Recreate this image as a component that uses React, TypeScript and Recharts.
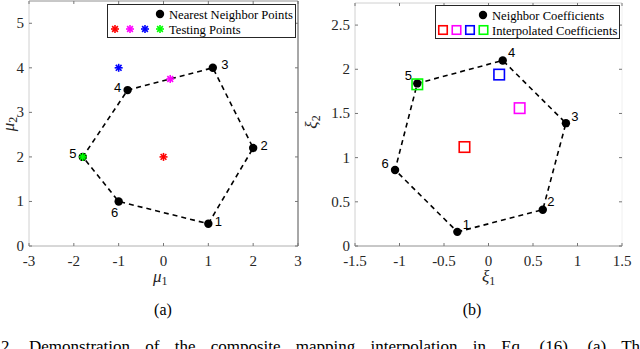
import React from 'react'
import { ScatterChart, Scatter, XAxis, YAxis } from 'recharts'

const POINT_LABELS = ['1', '2', '3', '4', '5', '6']

// (a) parameter space: nearest neighbours and the testing points
const MU1 = [1, 2, 1.1, -0.8, -1.8, -1]
const MU2 = [0.5, 2.2, 4, 3.5, 2, 1]
const TEST_MU1 = [0, 0.15, -1, -1.8]
const TEST_MU2 = [2, 3.75, 4, 2]

// (b) coefficient space: neighbour and interpolated coefficients
const XI1 = [-0.35, 0.61, 0.87, 0.16, -0.8, -1.05]
const XI2 = [0.16, 0.41, 1.39, 2.1, 1.84, 0.86]
const INTERP_XI1 = [-0.27, 0.35, 0.12, -0.8]
const INTERP_XI2 = [1.12, 1.56, 1.94, 1.83]

const SET_COLORS = ['#ff0000', '#ff00ff', '#0000ff', '#00ff00']

const MU1_TICKS = [-3, -2, -1, 0, 1, 2, 3]
const MU2_TICKS = [0, 1, 2, 3, 4, 5]
const XI1_TICKS = [-1.5, -1, -0.5, 0, 0.5, 1, 1.5]
const XI2_TICKS = [0, 0.5, 1, 1.5, 2, 2.5]

// label offsets next to each numbered point (dx, dy)
const LABEL_OFFSET_A = [[10, -2], [11, -3], [12, -3], [-10, -3], [-10, -3], [-4, 11]]
const LABEL_OFFSET_B = [[9, -7], [8, -8], [9, -7], [9, -8], [-9, -8], [-10, -7]]

const SERIF = '"Liberation Serif", "Times New Roman", serif'
const SANS = '"Liberation Sans", Arial, sans-serif'

const toPoints = (xs: number[], ys: number[], extra?: (i: number) => any) =>
  xs.map((x, i) => ({ x, y: ys[i], ...(extra ? extra(i) : {}) }))

const closed = (pts: any[]) => [...pts, pts[0]]

const AxisTick = (props: any) => {
  const { x, y, payload, side, showLabel, lineColor } = props
  const len = 3
  let line = null
  let label = null
  if (side === 'bottom') {
    line = <line x1={x} y1={y} x2={x} y2={y - len} stroke={lineColor} />
    if (showLabel) {
      label = (
        <text x={x} y={y + 15} textAnchor="middle" dominantBaseline="central" fontFamily={SERIF} fontSize={15} fill="#262626">
          {String(payload.value)}
        </text>
      )
    }
  } else if (side === 'top') {
    line = <line x1={x} y1={y} x2={x} y2={y + len} stroke={lineColor} />
  } else if (side === 'left') {
    line = <line x1={x} y1={y} x2={x + len} y2={y} stroke={lineColor} />
    if (showLabel) {
      label = (
        <text x={x - 5} y={y} textAnchor="end" dominantBaseline="central" fontFamily={SERIF} fontSize={15} fill="#262626">
          {String(payload.value)}
        </text>
      )
    }
  } else {
    line = <line x1={x} y1={y} x2={x - len} y2={y} stroke={lineColor} />
  }
  return (
    <g>
      {line}
      {label}
    </g>
  )
}

const makeDot = (offsets: number[][]) => (p: any) => {
  const { cx, cy, index, payload } = p
  const off = offsets[index] || [0, 0]
  return (
    <g>
      <circle cx={cx} cy={cy} r={4.2} fill="#000" />
      <text x={cx + off[0]} y={cy + off[1]} textAnchor="middle" dominantBaseline="central" fontFamily={SANS} fontSize={13} fill="#000">
        {payload.label}
      </text>
    </g>
  )
}

const Asterisk = ({ cx, cy, color, r = 4 }: any) => {
  const d = r * 0.72
  return (
    <g stroke={color} strokeWidth={1.6}>
      <line x1={cx - r} y1={cy} x2={cx + r} y2={cy} />
      <line x1={cx} y1={cy - r} x2={cx} y2={cy + r} />
      <line x1={cx - d} y1={cy - d} x2={cx + d} y2={cy + d} />
      <line x1={cx - d} y1={cy + d} x2={cx + d} y2={cy - d} />
    </g>
  )
}

const Square = ({ cx, cy, color, s = 10 }: any) => (
  <rect x={cx - s / 2} y={cy - s / 2} width={s} height={s} fill="none" stroke={color} strokeWidth={1.6} />
)

const emptyShape = () => <g />

const dashed = { stroke: '#000', strokeWidth: 1.6, strokeDasharray: '5 4' }

function Panel({
  left, plotMargin, xDomain, yDomain, xTicks, yTicks, neighbors, markers, offsets, markerShape, colors,
}: any) {
  return (
    <div style={{ position: 'absolute', left, top: 0 }}>
      <ScatterChart width={320} height={300} margin={plotMargin}>
        <XAxis
          type="number" dataKey="x" domain={xDomain} ticks={xTicks} interval={0} allowDataOverflow
          height={1} tickSize={0} tickMargin={0} tickLine={false} axisLine={{ stroke: colors.bottom }}
          tick={(p: any) => <AxisTick {...p} side="bottom" showLabel lineColor="#777" />}
        />
        <XAxis
          xAxisId="top" orientation="top" type="number" dataKey="x" domain={xDomain} ticks={xTicks} interval={0} allowDataOverflow
          height={1} tickSize={0} tickMargin={0} tickLine={false} axisLine={{ stroke: colors.top }}
          tick={(p: any) => <AxisTick {...p} side="top" lineColor="#777" />}
        />
        <YAxis
          type="number" dataKey="y" domain={yDomain} ticks={yTicks} interval={0} allowDataOverflow
          width={1} tickSize={0} tickMargin={0} tickLine={false} axisLine={{ stroke: colors.left }}
          tick={(p: any) => <AxisTick {...p} side="left" showLabel lineColor="#777" />}
        />
        <YAxis
          yAxisId="right" orientation="right" type="number" dataKey="y" domain={yDomain} ticks={yTicks} interval={0} allowDataOverflow
          width={1} tickSize={0} tickMargin={0} tickLine={false} axisLine={{ stroke: colors.right }}
          tick={(p: any) => <AxisTick {...p} side="right" lineColor="#777" />}
        />
        <Scatter data={closed(neighbors)} line={dashed} lineType="joint" shape={emptyShape} isAnimationActive={false} />
        <Scatter data={neighbors} shape={makeDot(offsets)} isAnimationActive={false} />
        <Scatter data={markers} shape={markerShape} isAnimationActive={false} />
      </ScatterChart>
    </div>
  )
}

export default function App() {
  const neighborsA = toPoints(MU1, MU2, (i) => ({ label: POINT_LABELS[i] }))
  const testsA = toPoints(TEST_MU1, TEST_MU2, (i) => ({ color: SET_COLORS[i] }))
  const neighborsB = toPoints(XI1, XI2, (i) => ({ label: POINT_LABELS[i] }))
  const interpB = toPoints(INTERP_XI1, INTERP_XI2, (i) => ({ color: SET_COLORS[i] }))

  return (
    <div style={{ position: 'absolute', left: 0, top: 0, width: 640, height: 349, overflow: 'hidden', background: '#fff' }}>
      <Panel
        left={0}
        plotMargin={{ top: 0, right: 21, bottom: 53, left: 28 }}
        xDomain={[-3, 3]} yDomain={[0, 5.5]} xTicks={MU1_TICKS} yTicks={MU2_TICKS}
        neighbors={neighborsA} markers={testsA} offsets={LABEL_OFFSET_A}
        markerShape={(p: any) => <Asterisk cx={p.cx} cy={p.cy} color={p.payload.color} />}
        colors={{ bottom: '#b0b0b0', top: '#909090', left: '#d0d0d0', right: '#505050' }}
      />
      <Panel
        left={320}
        plotMargin={{ top: 2, right: 17, bottom: 53, left: 34 }}
        xDomain={[-1.5, 1.5]} yDomain={[0, 2.75]} xTicks={XI1_TICKS} yTicks={XI2_TICKS}
        neighbors={neighborsB} markers={interpB} offsets={LABEL_OFFSET_B}
        markerShape={(p: any) => <Square cx={p.cx} cy={p.cy} color={p.payload.color} s={10.5} />}
        colors={{ bottom: '#909090', top: '#d0d0d0', left: '#d0d0d0', right: '#f0f0f0' }}
      />
      <svg width={640} height={349} style={{ position: 'absolute', left: 0, top: 0, pointerEvents: 'none' }}>
        {/* legend (a) */}
        <rect x={107.5} y={4.5} width={188} height={33} fill="#fff" stroke="#262626" />
        <circle cx={160} cy={14} r={4.2} fill="#000" />
        <text x={169} y={18.5} fontFamily={SERIF} fontSize={12.6} fill="#000">Nearest Neighbor Points</text>
        {SET_COLORS.map((c, i) => (
          <Asterisk key={c} cx={115 + i * 15} cy={29} color={c} />
        ))}
        <text x={169} y={33.5} fontFamily={SERIF} fontSize={12.6} fill="#000">Testing Points</text>

        {/* legend (b) */}
        <rect x={435.5} y={5.5} width={184} height={33} fill="#fff" stroke="#262626" />
        <circle cx={483} cy={15} r={4.2} fill="#000" />
        <text x={492} y={19.5} fontFamily={SERIF} fontSize={12.6} fill="#000">Neighbor Coefficients</text>
        {SET_COLORS.map((c, i) => (
          <Square key={c} cx={443 + i * 13.5} cy={30} color={c} s={8.5} />
        ))}
        <text x={492} y={34.5} fontFamily={SERIF} fontSize={12.6} fill="#000">Interpolated Coefficients</text>

        {/* axis labels */}
        <text x={153} y={282} fontFamily={SERIF} fontSize={17} fontStyle="italic" fill="#262626">
          μ<tspan fontSize={12} fontStyle="normal" dy={3}>1</tspan>
        </text>
        <text transform="translate(14,124) rotate(-90)" textAnchor="middle" fontFamily={SERIF} fontSize={17} fontStyle="italic" fill="#262626">
          μ<tspan fontSize={12} fontStyle="normal" dy={3}>2</tspan>
        </text>
        <text x={482} y={282} fontFamily={SERIF} fontSize={17} fontStyle="italic" fill="#262626">
          ξ<tspan fontSize={12} fontStyle="normal" dy={3}>1</tspan>
        </text>
        <text transform="translate(317,122) rotate(-90)" textAnchor="middle" fontFamily={SERIF} fontSize={17} fontStyle="italic" fill="#262626">
          ξ<tspan fontSize={12} fontStyle="normal" dy={3}>2</tspan>
        </text>

        {/* sub-figure captions */}
        <text x={163} y={315} textAnchor="middle" fontFamily={SERIF} fontSize={16} fill="#000">(a)</text>
        <text x={472} y={315} textAnchor="middle" fontFamily={SERIF} fontSize={16} fill="#000">(b)</text>

        {/* figure caption, cut by the page edge as in the source */}
        <text x={1} y={352} fontFamily={SERIF} fontSize={17} wordSpacing={11} fill="#000">
          2.  Demonstration of the composite mapping interpolation in Eq. (16).  (a) The
        </text>
      </svg>
    </div>
  )
}
